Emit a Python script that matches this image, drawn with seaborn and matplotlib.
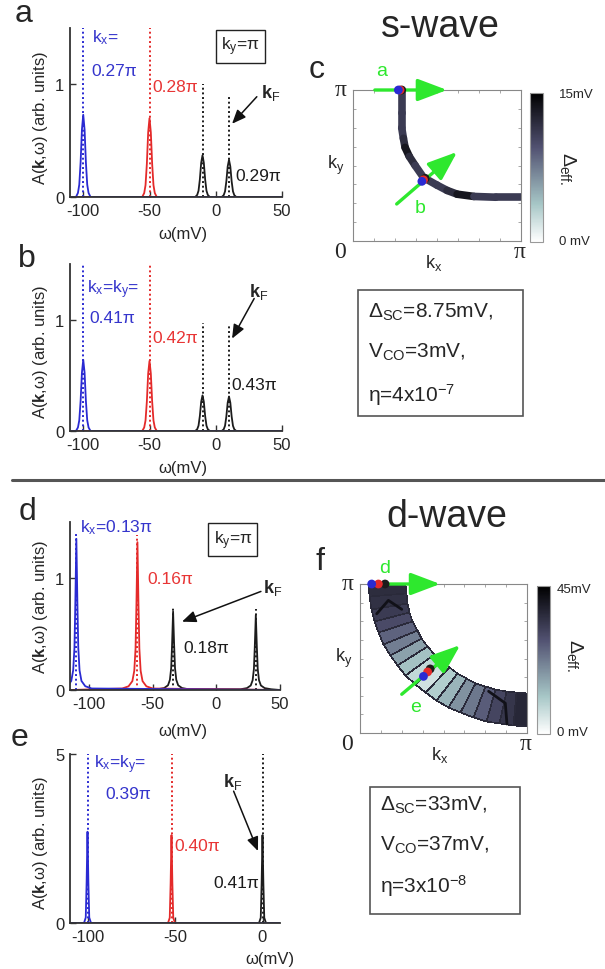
import numpy as np
import matplotlib
matplotlib.use("Agg")
import matplotlib.pyplot as plt
import seaborn as sns
from matplotlib.collections import LineCollection
from matplotlib.patches import Rectangle
from matplotlib.lines import Line2D

sns.set_style("ticks")
plt.rcParams['font.family'] = ['Liberation Sans', 'DejaVu Sans']
plt.rcParams['mathtext.fontset'] = 'custom'
plt.rcParams['mathtext.rm'] = 'Liberation Sans'
plt.rcParams['mathtext.it'] = 'Liberation Sans:italic'
plt.rcParams['mathtext.bf'] = 'Liberation Sans:bold'
plt.rcParams['axes.unicode_minus'] = False

# ---- spectra: peak position (mV), peak height, top of dotted line, colour
a_w = [-100, -50, -10, 10]
a_h = [0.73, 0.70, 0.37, 0.33]
a_top = [1.5, 1.5, 1.0, 0.89]
a_col = ['blue', 'red', 'black', 'black']

b_w = [-100, -50, -10, 10]
b_h = [0.64, 0.63, 0.32, 0.31]
b_top = [1.5, 1.5, 0.97, 0.95]
b_col = ['blue', 'red', 'black', 'black']

d_w = [-110, -62, -34, 31]
d_h = [1.35, 1.32, 0.70, 0.67]
d_top = [1.40, 1.38, 0.75, 0.72]
d_col = ['blue', 'red', 'black', 'black']

e_w = [-100, -52, 0]
e_h = [2.7, 2.6, 2.6]
e_top = [5, 5, 5]
e_col = ['blue', 'red', 'black']

# peak shapes (offset in mV, fraction of peak height)
gauss_off = [-5.5, -4, -3, -2, -1, 0, 1, 2, 3, 4, 5.5]
gauss_rel = [0, 0.05, 0.15, 0.42, 0.82, 1, 0.82, 0.42, 0.15, 0.05, 0]
lor_off = [-12, -7, -4, -2.5, -1.5, -0.8, 0, 0.8, 1.5, 2.5, 4, 7, 12]
lor_rel = [0.01, 0.025, 0.06, 0.13, 0.28, 0.58, 1, 0.58, 0.28, 0.13, 0.06, 0.025, 0.01]
narrow_off = [-2, -1, -0.5, 0, 0.5, 1, 2]
narrow_rel = [0, 0.06, 0.45, 1, 0.45, 0.06, 0]

# ---- s-wave Fermi surface (units of pi) and gap along it (mV)
c_kx = [0.29, 0.29, 0.29, 0.30, 0.31, 0.335, 0.37, 0.42, 0.50, 0.56, 0.62, 0.72, 0.85, 1.0]
c_ky = [1.0, 0.85, 0.75, 0.68, 0.62, 0.56, 0.50, 0.42, 0.37, 0.335, 0.31, 0.295, 0.29, 0.29]
c_gap = [11, 11, 11, 12, 13.5, 12, 11, 11, 11, 12, 13.5, 11, 11]
c_dot_kx = [0.29, 0.28, 0.27, 0.43, 0.42, 0.41]
c_dot_ky = [1.0, 1.0, 1.0, 0.415, 0.405, 0.395]
c_dot_col = ['black', 'red', 'blue', 'black', 'red', 'blue']

# ---- d-wave band: angle segments around (pi,pi), radii, gap (mV)
f_phi = np.linspace(0, 90, 19)
f_r = [0.73, 0.95]
f_gap = [36, 35, 33, 30, 26, 22, 17, 12, 8, 6, 10, 14, 19, 23, 27, 31, 34, 37]
f_dot_kx = [0.15, 0.11, 0.07, 0.42, 0.405, 0.38]
f_dot_ky = [1.0, 1.0, 1.0, 0.43, 0.41, 0.38]
f_dot_col = ['black', 'red', 'blue', 'black', 'red', 'blue']
# dark ridges inside the band
f_ridge1_kx = [0.10, 0.17, 0.25]
f_ridge1_ky = [0.80, 0.89, 0.83]
f_ridge2_kx = [0.77, 0.87, 0.88]
f_ridge2_ky = [0.28, 0.20, 0.06]

COL = {'blue': '#2a2ad2', 'red': '#e42a2a', 'black': '#1c1c1c'}
TXT = {'blue': '#3535cc', 'red': '#e83535', 'black': '#1c1c1c'}
GREEN = '#2ee82e'

W, H = 605, 970
fig = plt.figure(figsize=(W / 100, H / 100), dpi=100)


def px_axes(l, t, r, b):
    return fig.add_axes([l / W, 1 - b / H, (r - l) / W, (b - t) / H])


def ftext(x, y, s, **kw):
    fig.text(x / W, 1 - y / H, s, **kw)


def spectrum(ax, w, h, top, col, off, rel, xlim, ylim, xticks, yticks):
    for c in ['black', 'red', 'blue']:
        xs, ys = [xlim[0]], [0]
        for wi, hi, ci in zip(w, h, col):
            if ci == c:
                xs += [wi + o for o in off]
                ys += [hi * r for r in rel]
        xs.append(xlim[1])
        ys.append(0)
        sns.lineplot(x=xs, y=ys, ax=ax, color=COL[c], lw=1.3, sort=False, estimator=None)
        for wi, hi, ti, ci in zip(w, h, top, col):
            if ci == c:
                ax.vlines(wi, 0, ti, colors=COL[c], linestyles=(0, (1, 1.4)), lw=1.4)
    ax.set_xlim(xlim)
    ax.set_ylim(ylim)
    ax.set_xticks(xticks)
    ax.set_yticks(yticks)
    sns.despine(ax=ax)
    for s in ['left', 'bottom']:
        ax.spines[s].set_color('#333333')
        ax.spines[s].set_linewidth(1.3)
    ax.tick_params(direction='in', length=4, width=1, labelsize=12, pad=4, color='#333333')


def kx_txt(ax, x, y, s, c, **kw):
    ax.text(x, y, s, color=TXT[c], fontsize=12.5, va='center', **kw)


def kf_arrow(ax, tx, ty, hx, hy, sx, sy):
    ax.text(tx, ty, r"$\mathbf{k}_{\rm F}$", fontsize=13, va='center')
    ax.annotate('', xy=(hx, hy), xytext=(sx, sy),
                arrowprops=dict(arrowstyle='-|>,head_length=0.6,head_width=0.25',
                                color='#111111', lw=1.1, mutation_scale=14, shrinkA=0, shrinkB=0))


def ky_box(ax, x, y):
    ax.text(x, y, r"k$_{\rm y}$=π", fontsize=12.5, ha='center', va='center',
            bbox=dict(boxstyle='square,pad=0.3', fc='white', ec='#222222', lw=1))


# ---------------- panel a
ax = px_axes(70, 29, 282, 198)
spectrum(ax, a_w, a_h, a_top, a_col, gauss_off, gauss_rel, (-110, 50), (0, 1.5),
         [-100, -50, 0, 50], [0, 1])
kx_txt(ax, -93.5, 1.42, r"k$_{\rm x}$=", 'blue')
kx_txt(ax, -93.5, 1.12, "0.27π", 'blue')
kx_txt(ax, -48, 0.98, "0.28π", 'red')
kx_txt(ax, 15, 0.19, "0.29π", 'black')
kf_arrow(ax, 34, 0.93, 12.3, 0.65, 31, 0.89)
ky_box(ax, 18.5, 1.34)

# ---------------- panel b
ax = px_axes(70, 265, 282, 432)
spectrum(ax, b_w, b_h, b_top, b_col, gauss_off, gauss_rel, (-110, 50), (0, 1.5),
         [-100, -50, 0, 50], [0, 1])
kx_txt(ax, -97, 1.28, r"k$_{\rm x}$=k$_{\rm y}$=", 'blue')
kx_txt(ax, -95, 1.02, "0.41π", 'blue')
kx_txt(ax, -47.5, 0.84, "0.42π", 'red')
kx_txt(ax, 12, 0.42, "0.43π", 'black')
kf_arrow(ax, 25, 1.26, 12.3, 0.83, 29, 1.19)

# ---------------- panel d
ax = px_axes(70, 523, 280, 691)
spectrum(ax, d_w, d_h, d_top, d_col, lor_off, lor_rel, (-115, 50), (0, 1.5),
         [-100, -50, 0, 50], [0, 1])
kx_txt(ax, -107, 1.46, r"k$_{\rm x}$=0.13π", 'blue')
kx_txt(ax, -54, 1.0, "0.16π", 'red')
kx_txt(ax, -26, 0.38, "0.18π", 'black')
kf_arrow(ax, 37, 0.92, -27, 0.61, 35, 0.88)
ky_box(ax, 13, 1.34)

# ---------------- panel e
ax = px_axes(70, 755, 280, 924)
spectrum(ax, e_w, e_h, e_top, e_col, narrow_off, narrow_rel, (-110, 10), (0, 5),
         [-100, -50, 0], [0, 5])
kx_txt(ax, -96, 4.72, r"k$_{\rm x}$=k$_{\rm y}$=", 'blue')
kx_txt(ax, -90, 3.82, "0.39π", 'blue')
kx_txt(ax, -50.5, 2.28, "0.40π", 'red')
kx_txt(ax, -28, 1.21, "0.41π", 'black')
kf_arrow(ax, -22.5, 4.2, -2.6, 2.13, -16.5, 3.9)

# axis labels of the spectra
for yc in [118, 352, 607, 843]:
    ftext(40, yc, r"A($\mathbf{k}$,ω) (arb. units)", rotation=90, ha='center', va='center', fontsize=12)
for (xc, yc) in [(183, 235), (183, 468), (183, 732)]:
    ftext(xc, yc, "ω(mV)", ha='center', va='center', fontsize=12)
ftext(294, 960, "ω(mV)", ha='right', va='center', fontsize=12)


def bz_axes(ax, cax, mappable):
    ax.set_xlim(0, 1)
    ax.set_ylim(0, 1)
    t = np.linspace(0, 1, 9)
    ax.set_xticks(t)
    ax.set_yticks(t)
    ax.tick_params(direction='in', length=2.5, width=0.6, top=True, right=True, color='#999999',
                   labelbottom=False, labelleft=False)
    for s in ax.spines.values():
        s.set_color('#888888')
        s.set_linewidth(0.8)
    cb = fig.colorbar(mappable, cax=cax)
    cb.set_ticks([])
    cb.outline.set_edgecolor('#999999')
    cb.outline.set_linewidth(0.8)
    ser = ['Liberation Serif', 'DejaVu Serif']
    ax.text(-0.075, 1.0, "π", family=ser, fontsize=17, ha='center', va='center', transform=ax.transAxes)
    ax.text(-0.075, -0.07, "0", family=ser, fontsize=17, ha='center', va='center', transform=ax.transAxes)
    ax.text(0.99, -0.07, "π", family=ser, fontsize=17, ha='center', va='center', transform=ax.transAxes)
    ax.text(-0.1, 0.51, r"k$_{\rm y}$", fontsize=13, ha='center', va='center', transform=ax.transAxes)
    ax.text(0.48, -0.14, r"k$_{\rm x}$", fontsize=13, ha='center', va='center', transform=ax.transAxes)


def green_arrow(ax, x0, y0, x1, y1):
    ax.annotate('', xy=(x1, y1), xytext=(x0, y0), annotation_clip=False, zorder=4,
                arrowprops=dict(arrowstyle='-|>,head_length=0.9,head_width=0.34', color=GREEN,
                                lw=2.4, mutation_scale=20, shrinkA=0, shrinkB=0))


# ---------------- panel c (s-wave)
ax = px_axes(353, 91, 521, 242)
cax = px_axes(530, 94, 543, 243)
pts = np.column_stack([c_kx, c_ky])
segs = np.stack([pts[:-1], pts[1:]], axis=1)
lc = LineCollection(segs, cmap='bone_r', norm=plt.Normalize(0, 15), linewidths=5.5, capstyle='round')
lc.set_array(np.array(c_gap))
ax.add_collection(lc)
green_arrow(ax, 0.13, 1.0, 0.56, 1.0)
green_arrow(ax, 0.26, 0.245, 0.62, 0.59)
ax.scatter(c_dot_kx, c_dot_ky, c=[COL[c] for c in c_dot_col], s=40, zorder=5, clip_on=False, lw=0)
bz_axes(ax, cax, lc)
ax.text(0.17, 1.13, "a", color=GREEN, fontsize=14, ha='center', va='center', transform=ax.transAxes)
ax.text(0.40, 0.22, "b", color=GREEN, fontsize=14, ha='center', va='center', transform=ax.transAxes)
ftext(559, 95, "15mV", fontsize=9.5, va='center')
ftext(559, 242, "0 mV", fontsize=9.5, va='center')
ftext(568, 168, r"Δ$_{\rm eff.}$", rotation=-90, fontsize=14, ha='center', va='center')

# ---------------- panel f (d-wave)
ax = px_axes(360, 585, 527, 734)
cax = px_axes(537, 587, 550, 735)
PHI, R = np.meshgrid(np.deg2rad(f_phi), f_r)
X = 1 - R * np.cos(PHI)
Y = 1 - R * np.sin(PHI)
qm = ax.pcolormesh(X, Y, np.array(f_gap)[None, :], cmap='bone_r', vmin=0, vmax=45,
                   edgecolors='#2a2a3a', linewidth=0.4, shading='flat')
ax.plot(f_ridge1_kx, f_ridge1_ky, color='#111118', lw=2)
ax.plot(f_ridge2_kx, f_ridge2_ky, color='#111118', lw=2)
green_arrow(ax, 0.16, 1.0, 0.48, 1.0)
green_arrow(ax, 0.25, 0.26, 0.60, 0.59)
ax.scatter(f_dot_kx, f_dot_ky, c=[COL[c] for c in f_dot_col], s=40, zorder=5, clip_on=False, lw=0)
bz_axes(ax, cax, qm)
ax.text(0.15, 1.11, "d", color=GREEN, fontsize=14, ha='center', va='center', transform=ax.transAxes)
ax.text(0.33, 0.18, "e", color=GREEN, fontsize=14, ha='center', va='center', transform=ax.transAxes)
ftext(557, 590, "45mV", fontsize=9.5, va='center')
ftext(557, 733, "0 mV", fontsize=9.5, va='center')
ftext(575, 655, r"Δ$_{\rm eff.}$", rotation=-90, fontsize=14, ha='center', va='center')

# titles, panel letters
ftext(440, 27, "s-wave", fontsize=27, ha='center', va='center')
ftext(447, 517, "d-wave", fontsize=27, ha='center', va='center')
for (x, y, s) in [(24, 14, 'a'), (27, 259, 'b'), (317, 70, 'c'), (28, 512, 'd'), (20, 738, 'e'), (320, 562, 'f')]:
    ftext(x, y, s, fontsize=23, ha='center', va='center')

# parameter boxes
fig.add_artist(Rectangle((358 / W, 1 - 417 / H), 165 / W, 126 / H, transform=fig.transFigure,
                         fill=False, ec='#555555', lw=1.2))
ftext(368, 312, r"Δ$_{\rm SC}$=8.75mV,", fontsize=15, va='center')
ftext(368, 352, r"V$_{\rm CO}$=3mV,", fontsize=15, va='center')
ftext(368, 395, r"η=4x10$^{-7}$", fontsize=15, va='center')

fig.add_artist(Rectangle((370 / W, 1 - 915 / H), 150 / W, 127 / H, transform=fig.transFigure,
                         fill=False, ec='#555555', lw=1.2))
ftext(380, 805, r"Δ$_{\rm SC}$=33mV,", fontsize=15, va='center')
ftext(380, 845, r"V$_{\rm CO}$=37mV,", fontsize=15, va='center')
ftext(380, 886, r"η=3x10$^{-8}$", fontsize=15, va='center')

# divider between s-wave and d-wave halves
fig.add_artist(Line2D([12 / W, 1], [1 - 481 / H, 1 - 481 / H], transform=fig.transFigure,
                      color='#555555', lw=2.2))

fig.savefig("out.png", dpi=100)
